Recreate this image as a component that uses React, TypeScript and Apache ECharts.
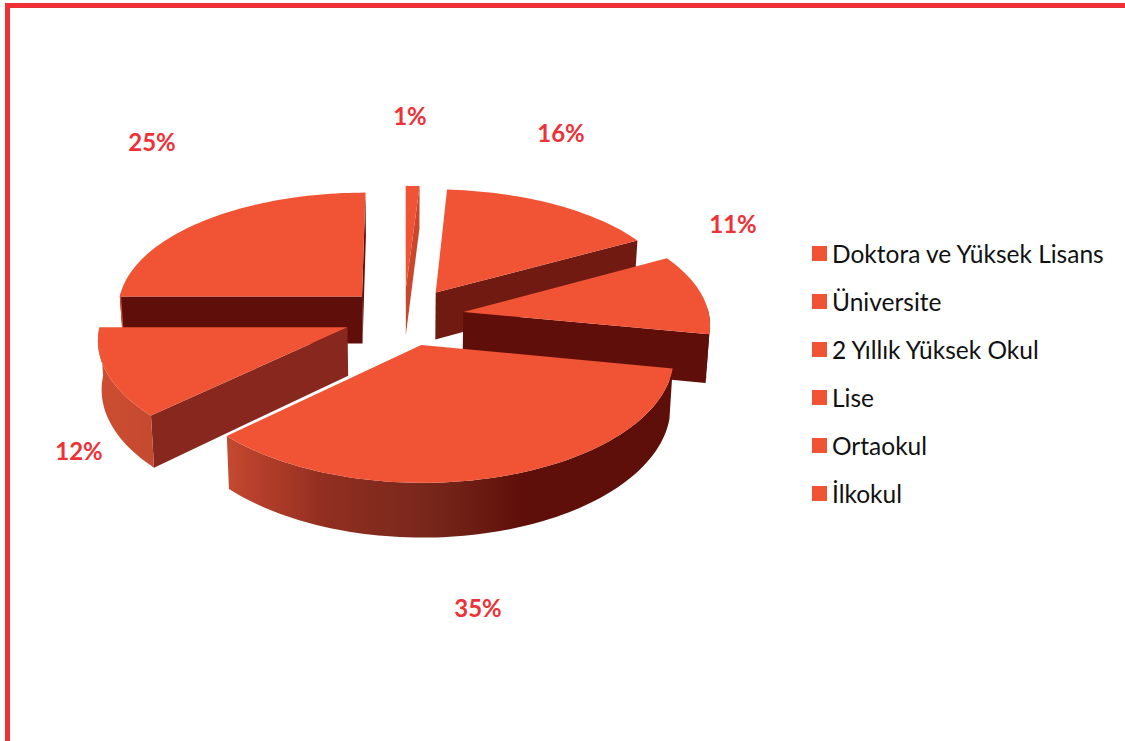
import React, { useEffect, useRef } from "react";
import * as echarts from "echarts";

const categories = ["Doktora ve Yüksek Lisans", "Üniversite", "2 Yıllık Yüksek Okul", "Lise", "Ortaokul", "İlkokul"];
const shares = [1, 16, 11, 35, 12, 25];

const TOP_COLOR = "#F05434";
const RED = "#EE3136";
const FACE_COLORS = ["#C9472D", "#701A12", "#5F0E09", "#5F0E09", "#88271E", "#5F0E09"];
const LABEL_ANCHORS = [[410, 115], [561, 132], [733, 223], [478, 607], [79, 450], [152, 141]];
const RIM_STOPS: [number, number[]][] = [
  [-1, [207, 77, 49]],
  [-0.73, [196, 74, 48]],
  [-0.54, [173, 58, 40]],
  [-0.344, [143, 46, 32]],
  [-0.01, [122, 40, 28]],
  [0.165, [111, 30, 20]],
  [0.35, [95, 15, 9]],
  [1, [95, 15, 9]],
];

const CX = 404, CY = 316.5, R = 246, TILT = 118, PERSP_X = 0.09, PERSP_Y = 0.1, DEPTH = 48, EXPLODE = 0.245, TAPER = 0.012;
const rad = (d: number) => (d * Math.PI) / 180;
const total = shares.reduce((a, b) => a + b, 0);
const spans = shares.map((v, i) => {
  const before = shares.slice(0, i).reduce((a, b) => a + b, 0);
  return [(before / total) * 360, ((before + v) / total) * 360];
});

function project(X: number, Y: number, z: number) {
  const sx = (1 - TAPER * z) / (1 + PERSP_X * Y);
  const sy = 1 / (1 + PERSP_Y * Y);
  return [CX + R * X * sx, CY - TILT * Y * sy + DEPTH * z * sy];
}

function shade(n: number) {
  for (let i = 1; i < RIM_STOPS.length; i++) {
    const [a, ca] = RIM_STOPS[i - 1];
    const [b, cb] = RIM_STOPS[i];
    if (n <= b) {
      const t = Math.max(0, (n - a) / (b - a));
      const c = ca.map((v, k) => Math.round(v + (cb[k] - v) * t));
      return `rgb(${c[0]},${c[1]},${c[2]})`;
    }
  }
  return "rgb(95,15,9)";
}

function area(p: number[][]) {
  let s = 0;
  p.forEach((a, i) => {
    const b = p[(i + 1) % p.length];
    s += a[0] * b[1] - b[0] * a[1];
  });
  return s / 2;
}

function sliceElements(i: number, value: number) {
  const [a, b] = spans[i];
  const mid = rad((a + b) / 2);
  const ox = EXPLODE * Math.sin(mid);
  const oy = EXPLODE * Math.cos(mid);
  const rimPoint = (deg: number, z: number) => project(ox + Math.sin(rad(deg)), oy + Math.cos(rad(deg)), z);
  const tip = (z: number) => project(ox, oy, z);
  const arc = (from: number, to: number, z: number) => {
    const n = Math.max(2, Math.ceil(Math.abs(to - from) / 1.5));
    return Array.from({ length: n + 1 }, (_, k) => rimPoint(from + ((to - from) * k) / n, z));
  };
  const children: any[] = [];
  const endFace = [tip(0), rimPoint(b, 0), rimPoint(b, 1), tip(1)];
  const startFace = [tip(0), rimPoint(a, 0), rimPoint(a, 1), tip(1)];
  const face = FACE_COLORS[i];
  if (area(startFace) < 0) children.push({ type: "polygon", shape: { points: startFace }, style: { fill: face } });
  if (area(endFace) > 0) children.push({ type: "polygon", shape: { points: endFace }, style: { fill: face } });

  const ra = Math.max(a, 88), rb = Math.min(b, 272);
  if (rb > ra) {
    const top = arc(ra, rb, 0);
    const bottom = arc(rb, ra, 1);
    const pts = [...top, ...bottom];
    const xs = pts.map((p) => p[0]);
    const minX = Math.min(...xs), maxX = Math.max(...xs);
    const steps = 24;
    const stops = Array.from({ length: steps + 1 }, (_, k) => {
      const d = ra + ((rb - ra) * k) / steps;
      const x = rimPoint(d, 0)[0];
      return { offset: Math.min(1, Math.max(0, (x - minX) / (maxX - minX))), color: shade(Math.sin(rad(d))) };
    }).sort((p, q) => p.offset - q.offset);
    children.push({
      type: "polygon",
      shape: { points: pts },
      style: { fill: new echarts.graphic.LinearGradient(0, 0, 1, 0, stops) },
    });
  }
  children.push({
    type: "polygon",
    shape: { points: [tip(0), ...arc(a, b, 0)] },
    style: { fill: TOP_COLOR },
  });
  children.push({
    type: "text",
    style: {
      text: `${value}%`,
      x: LABEL_ANCHORS[i][0],
      y: LABEL_ANCHORS[i][1],
      fill: RED,
      font: "bold 24px Lato, sans-serif",
      textAlign: "center",
      textVerticalAlign: "middle",
    },
  });
  return { type: "group", children };
}

const depthOrder = spans
  .map((s, i) => ({ i, y: Math.cos(rad((s[0] + s[1]) / 2)) }))
  .sort((p, q) => q.y - p.y)
  .map((o) => o.i);

export default function App() {
  const ref = useRef<HTMLDivElement>(null);
  useEffect(() => {
    const chart = echarts.init(ref.current!, undefined, { renderer: "svg" });
    chart.setOption({
      animation: false,
      backgroundColor: "#fff",
      legend: {
        left: 807,
        top: 236,
        orient: "vertical",
        icon: "rect",
        itemWidth: 15,
        itemHeight: 15,
        itemGap: 23,
        selectedMode: false,
        textStyle: { fontFamily: "Lato, sans-serif", fontSize: 24.5, color: "#111", lineHeight: 24 },
        data: categories,
      },
      graphic: [
        {
          type: "rect",
          shape: { x: 7.5, y: 5.5, width: 1200, height: 800 },
          style: { fill: "none", stroke: RED, lineWidth: 5 },
          z: 100,
        },
      ],
      series: categories.map((name, i) => ({
        type: "custom",
        name,
        coordinateSystem: "none",
        z: 2 + depthOrder.indexOf(i),
        itemStyle: { color: TOP_COLOR },
        data: [shares[i]],
        renderItem: () => sliceElements(i, shares[i]),
      })),
    });
    return () => chart.dispose();
  }, []);
  return <div ref={ref} style={{ position: "absolute", left: 0, top: 0, width: 1125, height: 741 }} />;
}
